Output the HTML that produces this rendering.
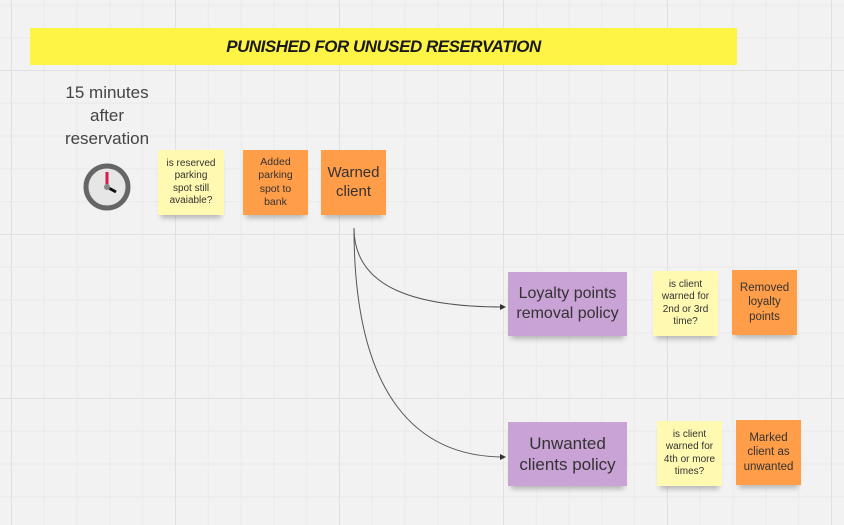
<!DOCTYPE html>
<html><head><meta charset="utf-8"><style>
body{margin:0;width:844px;height:525px;overflow:hidden;background:#f2f2f2;font-family:"Liberation Sans",sans-serif;}
.bg{position:absolute;left:0;top:0;width:844px;height:525px;
background-image:linear-gradient(#e0e0e0 1px,transparent 1px),linear-gradient(90deg,#e0e0e0 1px,transparent 1px),linear-gradient(#eaeaea 1px,transparent 1px),linear-gradient(90deg,#eaeaea 1px,transparent 1px);
background-size:164px 164px,164px 164px,32.8px 32.8px,32.8px 32.8px;background-position:11px 70px,11px 70px,11px 70px,11px 70px;}
.n{position:absolute;display:flex;align-items:center;justify-content:center;text-align:center;color:#333;box-shadow:0 6px 5px -3px rgba(0,0,0,.25);line-height:1.25;}
.y{background:#fff9b1;font-size:10px;}
.o{background:#ff9d48;font-size:10.5px;}
.p{background:#c9a2d6;font-size:16px;}
</style></head><body>
<div class="bg"></div>
<div style="position:absolute;left:30px;top:28px;width:707px;height:37px;background:#fef445;display:flex;align-items:center;justify-content:center;font-weight:bold;font-style:italic;font-size:17px;color:#1a1a1a;letter-spacing:-0.5px;">PUNISHED FOR UNUSED RESERVATION</div>
<div style="position:absolute;left:47px;top:81px;width:120px;text-align:center;font-size:17px;line-height:23px;color:#444;">15 minutes<br>after<br>reservation</div>
<svg style="position:absolute;left:0;top:0" width="844" height="525">
<circle cx="107" cy="187" r="21" fill="#e6e6e6" stroke="#666" stroke-width="5"/>
<line x1="107" y1="187" x2="107" y2="172" stroke="#d8194e" stroke-width="3"/>
<line x1="107" y1="187" x2="116" y2="192" stroke="#111" stroke-width="3"/>
<circle cx="107" cy="187" r="3" fill="#888"/>
<path d="M354 228 C354 290 420 307 504 307" fill="none" stroke="#555" stroke-width="1"/>
<path d="M354 228 C354 400 420 457 504 457" fill="none" stroke="#555" stroke-width="1"/>
<path d="M500 304 L506 307 L500 310Z" fill="#333"/>
<path d="M500 454 L506 457 L500 460Z" fill="#333"/>
</svg>
<div class="n y" style="left:158px;top:150px;width:66px;height:65px;">is reserved<br>parking<br>spot still<br>avaiable?</div>
<div class="n o" style="left:243px;top:150px;width:65px;height:65px;">Added<br>parking<br>spot to<br>bank</div>
<div class="n o" style="left:321px;top:150px;width:65px;height:65px;font-size:15px;">Warned<br>client</div>
<div class="n p" style="left:508px;top:272px;width:119px;height:64px;">Loyalty points<br>removal policy</div>
<div class="n y" style="left:653px;top:271px;width:65px;height:65px;">is client<br>warned for<br>2nd or 3rd<br>time?</div>
<div class="n o" style="left:732px;top:270px;width:65px;height:65px;font-size:11.5px;">Removed<br>loyalty<br>points</div>
<div class="n p" style="left:508px;top:422px;width:119px;height:64px;font-size:17px;">Unwanted<br>clients policy</div>
<div class="n y" style="left:657px;top:421px;width:65px;height:65px;">is client<br>warned for<br>4th or more<br>times?</div>
<div class="n o" style="left:736px;top:420px;width:65px;height:65px;font-size:11.5px;">Marked<br>client as<br>unwanted</div>
</body></html>
